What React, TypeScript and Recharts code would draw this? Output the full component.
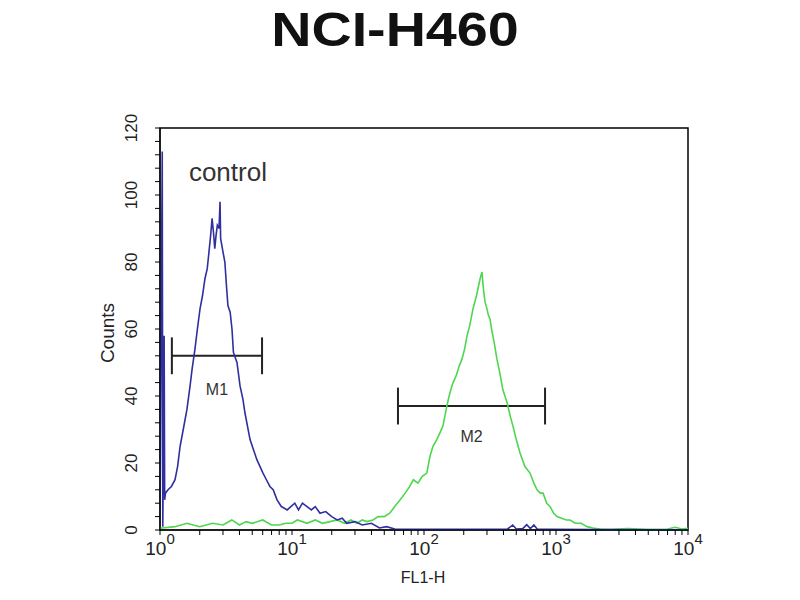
import { LineChart, Line, XAxis, YAxis, ReferenceArea, ReferenceLine, ReferenceDot } from "recharts"

// fluorescence (FL1-H) vs counts
const controlHist = [
  { x: 1.0, y: 2 }, { x: 1.04, y: 113 }, { x: 1.05, y: 1 }, { x: 1.075, y: 58 }, { x: 1.085, y: 9 }, { x: 1.1, y: 11 },
  { x: 1.15, y: 12 }, { x: 1.22, y: 13 }, { x: 1.3, y: 15 }, { x: 1.36, y: 19 }, { x: 1.42, y: 25 },
  { x: 1.5, y: 30 }, { x: 1.6, y: 36 }, { x: 1.69, y: 43 }, { x: 1.75, y: 48 }, { x: 1.84, y: 54 },
  { x: 1.92, y: 60 }, { x: 2.01, y: 66 }, { x: 2.1, y: 70 }, { x: 2.19, y: 75 }, { x: 2.28, y: 78 },
  { x: 2.35, y: 83 }, { x: 2.42, y: 88 }, { x: 2.48, y: 93 }, { x: 2.54, y: 89 }, { x: 2.6, y: 84 },
  { x: 2.66, y: 88 }, { x: 2.72, y: 91 }, { x: 2.8, y: 90 }, { x: 2.85, y: 98 }, { x: 2.88, y: 87 },
  { x: 3.0, y: 83 }, { x: 3.1, y: 80 }, { x: 3.2, y: 72 }, { x: 3.27, y: 67 }, { x: 3.4, y: 65 },
  { x: 3.51, y: 60 }, { x: 3.6, y: 53 }, { x: 3.83, y: 50 }, { x: 4.04, y: 43 }, { x: 4.25, y: 39 },
  { x: 4.4, y: 35 }, { x: 4.81, y: 27 }, { x: 5.1, y: 24 }, { x: 5.42, y: 21 }, { x: 6.03, y: 17 },
  { x: 6.4, y: 15 }, { x: 6.8, y: 13 }, { x: 7.2, y: 12 }, { x: 7.7, y: 9 }, { x: 8.3, y: 7 },
  { x: 9.2, y: 6 }, { x: 9.8, y: 7 }, { x: 10.5, y: 8 }, { x: 11.2, y: 6 }, { x: 12, y: 8 },
  { x: 13, y: 7 }, { x: 14, y: 6 }, { x: 15, y: 7 }, { x: 16.3, y: 5 }, { x: 18, y: 5.5 },
  { x: 20, y: 4 }, { x: 22, y: 3 }, { x: 24, y: 3.5 }, { x: 26, y: 2 }, { x: 30, y: 2.5 },
  { x: 34, y: 1.5 }, { x: 40, y: 2 }, { x: 46, y: 0.6 }, { x: 52, y: 1 }, { x: 60, y: 0.3 },
  { x: 80, y: 0.2 }, { x: 150, y: 0.2 }, { x: 300, y: 0.2 }, { x: 430, y: 0.3 }, { x: 470, y: 1.5 },
  { x: 500, y: 0.3 }, { x: 560, y: 0.4 }, { x: 600, y: 1.6 }, { x: 640, y: 0.4 }, { x: 680, y: 1.5 },
  { x: 720, y: 0.3 }, { x: 900, y: 0.2 }, { x: 2000, y: 0.1 }, { x: 10000, y: 0 },
]

const sampleHist = [
  { x: 1, y: 0.5 }, { x: 1.3, y: 1 }, { x: 1.6, y: 2 }, { x: 2, y: 1 }, { x: 2.5, y: 2 },
  { x: 3, y: 1.5 }, { x: 3.5, y: 3 }, { x: 4, y: 1.5 }, { x: 4.5, y: 2.5 }, { x: 5, y: 2 },
  { x: 6, y: 3 }, { x: 7, y: 1.5 }, { x: 8, y: 1.5 }, { x: 9, y: 2 }, { x: 10, y: 2 },
  { x: 11, y: 3 }, { x: 13, y: 2 }, { x: 15, y: 3 }, { x: 17, y: 2 }, { x: 19.4, y: 2.5 },
  { x: 22, y: 3 }, { x: 25, y: 2 }, { x: 28, y: 3 }, { x: 31, y: 2 }, { x: 34, y: 3 },
  { x: 37, y: 2.5 }, { x: 41, y: 3 }, { x: 45, y: 4 }, { x: 50, y: 4 }, { x: 55, y: 5 },
  { x: 60, y: 7 }, { x: 66, y: 9 }, { x: 72, y: 11 }, { x: 78, y: 13 }, { x: 83, y: 15 },
  { x: 90, y: 14 }, { x: 97, y: 16 }, { x: 105, y: 17 }, { x: 111, y: 22 }, { x: 117, y: 25 },
  { x: 125, y: 27 }, { x: 132, y: 29 }, { x: 139, y: 31 }, { x: 144, y: 34 }, { x: 149, y: 37 },
  { x: 155, y: 40 }, { x: 160, y: 42 }, { x: 166, y: 44 }, { x: 175, y: 46 }, { x: 185, y: 49 },
  { x: 194, y: 51 }, { x: 203, y: 54 }, { x: 212, y: 58 }, { x: 222, y: 61 }, { x: 235, y: 66 },
  { x: 250, y: 70 }, { x: 266, y: 75 }, { x: 275, y: 77 }, { x: 282, y: 72 }, { x: 290, y: 68 },
  { x: 300, y: 66 }, { x: 308, y: 64 }, { x: 316, y: 63 }, { x: 325, y: 60 }, { x: 340, y: 56 },
  { x: 357, y: 51 }, { x: 375, y: 47 }, { x: 395, y: 42 }, { x: 426, y: 38 }, { x: 450, y: 34 },
  { x: 472, y: 31 }, { x: 500, y: 27 }, { x: 534, y: 23 }, { x: 580, y: 19 }, { x: 635, y: 17 },
  { x: 680, y: 14 }, { x: 718, y: 12 }, { x: 760, y: 11 }, { x: 798, y: 11 }, { x: 850, y: 8 },
  { x: 901, y: 7 }, { x: 960, y: 5 }, { x: 1018, y: 4 }, { x: 1100, y: 3.5 }, { x: 1200, y: 3 },
  { x: 1277, y: 3 }, { x: 1400, y: 2 }, { x: 1550, y: 2 }, { x: 1718, y: 1 }, { x: 1900, y: 0.6 },
  { x: 2154, y: 0.3 }, { x: 2600, y: 0.2 }, { x: 3500, y: 0.4 }, { x: 5000, y: 0.2 }, { x: 7000, y: 0.3 },
  { x: 8000, y: 0.8 }, { x: 9000, y: 0.3 }, { x: 10000, y: 0.5 },
]

// gate markers
const m1 = { from: 1.23, to: 5.93, y: 52, label: "M1", labelY: 42 }
const m2 = { from: 63.5, to: 826, y: 37, label: "M2", labelY: 28 }

const xMajor = [1, 10, 100, 1000, 10000]
const yMajor = [0, 20, 40, 60, 80, 100, 120]

const xTicks: number[] = []
for (const d of [1, 10, 100, 1000]) for (let k = 1; k < 10; k++) xTicks.push(d * k)
xTicks.push(10000)
const yTicks: number[] = []
for (let v = 0; v <= 120; v += 4) yTicks.push(v)

const font = "'Liberation Sans', Arial, sans-serif"
const ink = "#222"

function XTick({ x, y, payload }: any) {
  if (!xMajor.includes(payload.value)) return null
  const exp = Math.round(Math.log10(payload.value))
  return (
    <text x={x} y={y + 18} textAnchor="middle" fontFamily={font} fontSize={19} fill={ink}>
      <tspan>10</tspan>
      <tspan dy={-11} fontSize={15}>{exp}</tspan>
    </text>
  )
}

function YTick({ x, y, payload }: any) {
  if (!yMajor.includes(payload.value)) return null
  const bx = x - 16
  return (
    <text x={bx} y={y} transform={`rotate(-90, ${bx}, ${y})`} textAnchor="middle" fontFamily={font} fontSize={17} fill={ink}>
      {payload.value}
    </text>
  )
}

export default function App() {
  const bar = (m: typeof m1) => [
    <ReferenceLine key={m.label + "h"} segment={[{ x: m.from, y: m.y }, { x: m.to, y: m.y }]} stroke={ink} strokeWidth={2} />,
    <ReferenceLine key={m.label + "l"} segment={[{ x: m.from, y: m.y - 5.5 }, { x: m.from, y: m.y + 5.5 }]} stroke={ink} strokeWidth={2} />,
    <ReferenceLine key={m.label + "r"} segment={[{ x: m.to, y: m.y - 5.5 }, { x: m.to, y: m.y + 5.5 }]} stroke={ink} strokeWidth={2} />,
    <ReferenceDot
      key={m.label + "t"}
      x={Math.sqrt(m.from * m.to)}
      y={m.labelY}
      r={0}
      fill="none"
      stroke="none"
      label={{ value: m.label, position: "center", fill: "#333", fontSize: 16, fontFamily: font }}
    />,
  ]

  return (
    <div style={{ position: "absolute", left: 0, top: 0, width: 800, height: 600, background: "#fff" }}>
      <div
        style={{
          position: "absolute",
          left: 0,
          width: 790,
          top: 2,
          textAlign: "center",
          fontFamily: font,
          fontWeight: "bold",
          fontSize: 48,
          color: "#111",
          transform: "scaleX(1.16)",
        }}
      >
        NCI-H460
      </div>
      <div
        style={{
          position: "absolute",
          left: 108,
          top: 333,
          fontFamily: font,
          fontSize: 19,
          color: ink,
          transform: "translate(-50%, -50%) rotate(-90deg)",
          whiteSpace: "nowrap",
        }}
      >
        Counts
      </div>
      <div
        style={{
          position: "absolute",
          left: 423,
          top: 578,
          fontFamily: font,
          fontSize: 16,
          color: ink,
          transform: "translate(-50%, -50%)",
        }}
      >
        FL1-H
      </div>
      <LineChart width={800} height={600} margin={{ top: 128, right: 112, bottom: 10, left: 100 }}>
        <XAxis
          dataKey="x"
          type="number"
          scale="log"
          domain={[1, 10000]}
          ticks={xTicks}
          allowDataOverflow
          interval={0}
          height={60}
          stroke="#000"
          tickSize={5}
          tickMargin={2}
          tick={<XTick />}
        />
        <YAxis
          type="number"
          domain={[0, 120]}
          ticks={yTicks}
          interval={0}
          width={60}
          stroke="#000"
          tickSize={5}
          tickMargin={2}
          tick={<YTick />}
        />
        <ReferenceArea x1={1} x2={10000} y1={0} y2={120} fill="none" stroke="#000" strokeWidth={1.5} />
        {bar(m1)}
        {bar(m2)}
        <ReferenceDot
          x={3.27}
          y={107}
          r={0}
          fill="none"
          stroke="none"
          label={{ value: "control", position: "center", fill: "#333", fontSize: 26, fontFamily: font }}
        />
        <Line data={sampleHist} dataKey="y" type="linear" dot={false} stroke="#4fd64f" strokeWidth={1.6} isAnimationActive={false} />
        <Line data={controlHist} dataKey="y" type="linear" dot={false} stroke="#2f2fa0" strokeWidth={1.6} isAnimationActive={false} />
      </LineChart>
    </div>
  )
}
